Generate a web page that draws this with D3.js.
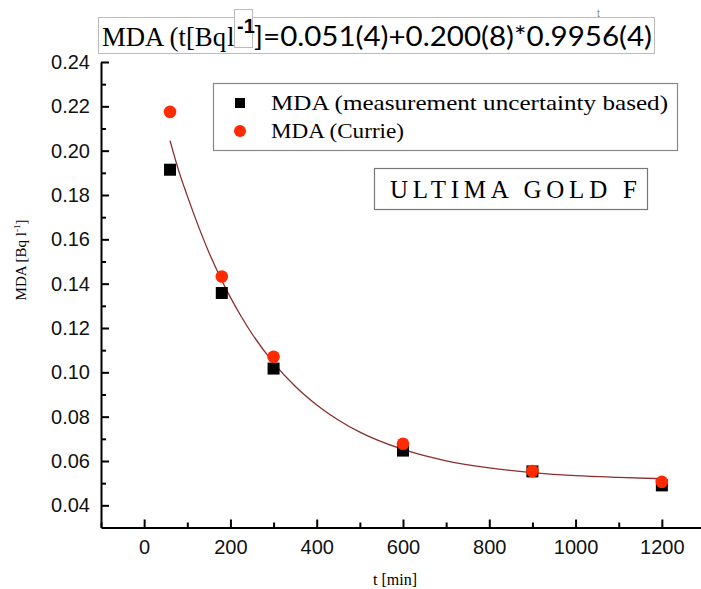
<!doctype html>
<html>
<head>
<style>
  body { margin: 0; background: #fff; }
  svg { display: block; }
</style>
<script src="https://d3js.org/d3.v7.min.js"></script>
</head>
<body>
<svg width="701" height="589" id="chart"></svg>
<script>
// measured points
var tMin = [60, 180, 300, 600, 900, 1200];
var mdaUncert = [0.1914, 0.1358, 0.1017, 0.0647, 0.0553, 0.0490];
var mdaCurrie = [0.2175, 0.1432, 0.1070, 0.0678, 0.0555, 0.0506];

// fitted curve
var fitT   = [60, 80, 100, 125, 150, 175, 200, 225, 250, 300, 350, 400, 450, 500, 600, 700, 800, 900, 1000, 1100, 1200];
var fitMda = [0.2045, 0.1910, 0.1796, 0.1663, 0.1542, 0.1435, 0.1338, 0.1252, 0.1174, 0.1043, 0.0937, 0.0853, 0.0785, 0.0730, 0.0652, 0.0601, 0.0569, 0.0548, 0.0534, 0.0526, 0.0520];

var xTicks = [0, 200, 400, 600, 800, 1000, 1200];
var xMinor = [-100, 100, 300, 500, 700, 900, 1100];
var yTicks = [0.04, 0.06, 0.08, 0.10, 0.12, 0.14, 0.16, 0.18, 0.20, 0.22, 0.24];
var yMinor = [0.05, 0.07, 0.09, 0.11, 0.13, 0.15, 0.17, 0.19, 0.21, 0.23];

var svg = d3.select("#chart");
var serif = "'Liberation Serif', 'DejaVu Serif', serif";
var sans = "'Liberation Sans', Arial, sans-serif";

var x = d3.scaleLinear().domain([-100, 1300]).range([101, 705]);
var y = d3.scaleLinear().domain([0.03, 0.24]).range([527.5, 62]);

// axes (ticks point inward)
svg.append("g").attr("transform", "translate(0,527.5)")
  .call(d3.axisBottom(x).tickValues(xTicks).tickSize(-8).tickSizeOuter(0).tickPadding(12)
        .tickFormat(d3.format("d")));
svg.append("g").attr("transform", "translate(0,527.5)")
  .call(d3.axisBottom(x).tickValues(xMinor).tickSize(-5).tickSizeOuter(0).tickFormat(""))
  .select(".domain").remove();

svg.append("g").attr("transform", "translate(101,0)")
  .call(d3.axisLeft(y).tickValues(yTicks).tickSize(-8).tickSizeOuter(0).tickPadding(11)
        .tickFormat(d3.format(".2f")));
svg.append("g").attr("transform", "translate(101,0)")
  .call(d3.axisLeft(y).tickValues(yMinor).tickSize(-5).tickSizeOuter(0).tickFormat(""))
  .select(".domain").remove();

svg.selectAll(".domain").attr("stroke", "#000").attr("stroke-width", 2);
svg.selectAll(".tick line").attr("stroke", "#000").attr("stroke-width", 2);
svg.selectAll(".tick text").attr("font-family", sans).attr("font-size", 20).attr("fill", "#111");

// fit line
var line = d3.line().x(function(d, i) { return x(fitT[i]); })
  .y(function(d) { return y(d); }).curve(d3.curveMonotoneX);
svg.append("path").datum(fitMda).attr("d", line)
  .attr("fill", "none").attr("stroke", "#8b2e2e").attr("stroke-width", 1.3);

// markers
svg.selectAll(".sq").data(mdaUncert).enter().append("rect")
  .attr("x", function(d, i) { return x(tMin[i]) - 6; })
  .attr("y", function(d) { return y(d) - 6; })
  .attr("width", 12).attr("height", 12).attr("fill", "#000");
svg.selectAll(".ci").data(mdaCurrie).enter().append("circle")
  .attr("cx", function(d, i) { return x(tMin[i]); })
  .attr("cy", function(d) { return y(d); })
  .attr("r", 6.3).attr("fill", "#ff2a00");

// legend
svg.append("rect").attr("x", 213.5).attr("y", 83.5).attr("width", 464).attr("height", 67)
  .attr("fill", "#fff").attr("stroke", "#888").attr("stroke-width", 1.2);
svg.append("rect").attr("x", 235).attr("y", 98).attr("width", 10).attr("height", 10).attr("fill", "#000");
svg.append("circle").attr("cx", 240).attr("cy", 131).attr("r", 6).attr("fill", "#ff2a00");
svg.append("text").attr("x", 271).attr("y", 110).attr("font-family", serif).attr("font-size", 22)
  .attr("textLength", 397).attr("lengthAdjust", "spacingAndGlyphs")
  .text("MDA (measurement uncertainty based)");
svg.append("text").attr("x", 271).attr("y", 138).attr("font-family", serif).attr("font-size", 22)
  .attr("textLength", 133).attr("lengthAdjust", "spacingAndGlyphs")
  .text("MDA (Currie)");

// product label
svg.append("rect").attr("x", 374.5).attr("y", 168.5).attr("width", 273).attr("height", 41)
  .attr("fill", "#fff").attr("stroke", "#777").attr("stroke-width", 1.2);
svg.append("text").attr("x", 390).attr("y", 198).attr("font-family", serif).attr("font-size", 25)
  .attr("textLength", 247).attr("lengthAdjust", "spacing")
  .text("ULTIMA GOLD F");

// title equation
svg.append("rect").attr("x", 98.5).attr("y", 17.5).attr("width", 556).attr("height", 36)
  .attr("fill", "#fff").attr("stroke", "#bbb");
svg.append("text").attr("x", 102).attr("y", 46).attr("font-family", serif).attr("font-size", 27)
  .attr("textLength", 124).attr("lengthAdjust", "spacingAndGlyphs").text("MDA (t[Bq");
svg.append("text").attr("x", 227).attr("y", 46).attr("font-family", serif).attr("font-size", 27).text("l");
svg.append("rect").attr("x", 234.5).attr("y", 9.5).attr("width", 18).attr("height", 38)
  .attr("fill", "#fff").attr("stroke", "#bbb");
svg.append("text").attr("x", 237).attr("y", 33).attr("font-family", sans).attr("font-size", 20)
  .attr("font-weight", "bold").text("-1");
svg.append("text").attr("x", 254).attr("y", 46).attr("font-family", "Lato, 'Open Sans', sans-serif")
  .attr("font-size", 27).attr("textLength", 398).attr("lengthAdjust", "spacingAndGlyphs")
  .text("]=0.051(4)+0.200(8)*0.9956(4)");
svg.append("text").attr("x", 597).attr("y", 17).attr("font-family", sans).attr("font-size", 10)
  .attr("fill", "#888").text("t");

// axis titles
svg.append("text").attr("x", 395).attr("y", 585).attr("text-anchor", "middle")
  .attr("font-family", serif).attr("font-size", 16).text("t [min]");
var yl = svg.append("text").attr("transform", "translate(26,260) rotate(-90)")
  .attr("text-anchor", "middle").attr("font-family", serif).attr("font-size", 15);
yl.append("tspan").text("MDA [Bq l");
yl.append("tspan").attr("font-size", 9).attr("dy", -6).text("-1");
yl.append("tspan").attr("dy", 6).text("]");
</script>
</body>
</html>
